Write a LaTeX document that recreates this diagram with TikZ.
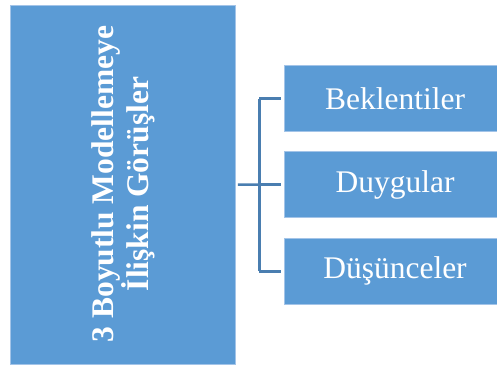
\documentclass[tikz,border=0pt]{standalone}
\usepackage{fontspec}
\setmainfont{Liberation Serif}
\definecolor{BoxBlue}{HTML}{5B9BD5}
\definecolor{EdgeBlue}{HTML}{A3C4E8}
\definecolor{LineBlue}{HTML}{4A7EB0}
\usepackage{tikz}
\usetikzlibrary{positioning,calc}

\begin{document}
\begin{tikzpicture}[x=1pt,y=-1pt,every node/.style={fill=BoxBlue,draw=EdgeBlue,line width=0.8pt,text=white,inner sep=0pt,align=center,font=\fontsize{31.5}{35}\selectfont}]
      \useasboundingbox (0,0) rectangle (497,365);
      \node[minimum width=225pt,minimum height=359pt,font=\fontsize{31.5}{35}\selectfont\bfseries] (main) at (122.5,184.5) {};
      \node[draw=none,fill=none,rotate=90,font=\fontsize{31.5}{35}\selectfont\bfseries] (title) at (123.5,184) {3 Boyutlu Modellemeye\\İlişkin Görüşler};
      \node[minimum width=222pt,minimum height=66pt] (b) at (395,98.5) {Beklentiler};
      \node[minimum width=222pt,minimum height=66pt] (d) at (395,184.7) {Duygular};
      \node[minimum width=222pt,minimum height=66pt] (u) at (395,271.3) {Düşünceler};
      \coordinate (j) at (259.3,184.7);
      \draw[line width=2.5pt,LineBlue] ($(main.east)+(2.5,0)$)--(j);
      \draw[line width=2.5pt,LineBlue] (j|-b.west)--(j|-u.west);
      \draw[line width=2.5pt,LineBlue] (j|-b.west)--($(b.west)+(-3,0)$);
      \draw[line width=2.5pt,LineBlue] (j)--($(d.west)+(-3,0)$);
      \draw[line width=2.5pt,LineBlue] (j|-u.west)--($(u.west)+(-3,0)$);
    \end{tikzpicture}
\end{document}
